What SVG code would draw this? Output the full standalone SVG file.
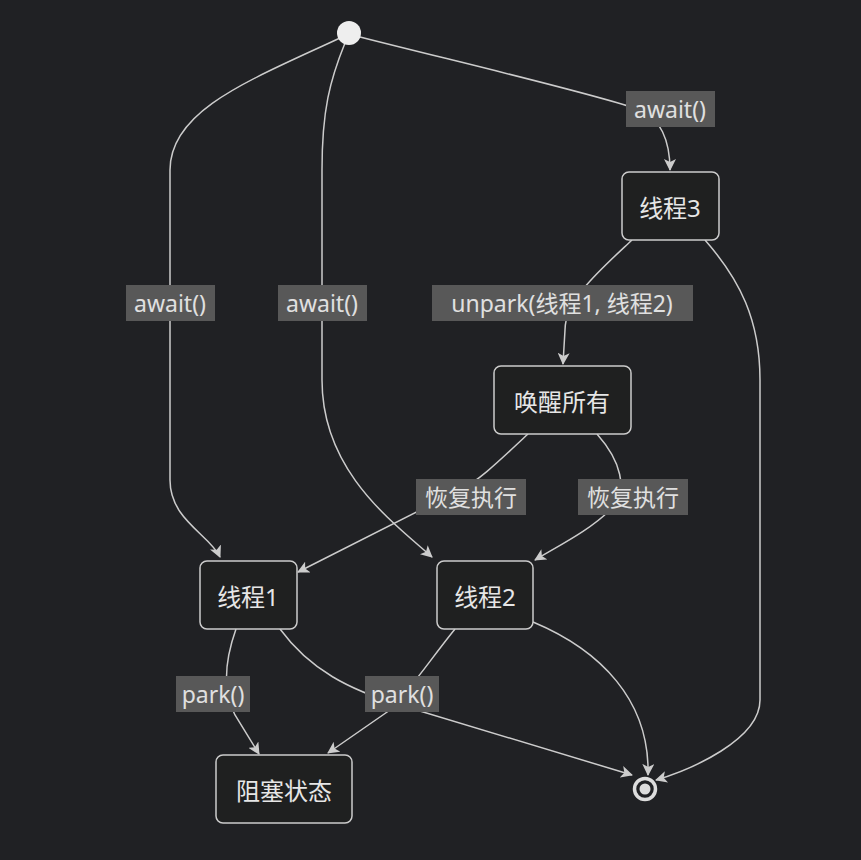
<svg xmlns="http://www.w3.org/2000/svg" width="861" height="860" viewBox="0 0 861 860">
<defs>
<style>
.n rect{fill:#1f2020;stroke:#cccccc;stroke-width:1.5}
text{font-family:"Noto Sans","Noto Sans CJK SC",sans-serif;font-size:24px;fill:#e6e6e6;text-anchor:middle;dominant-baseline:central}
.e path{fill:none;stroke:#cccccc;stroke-width:1.5;marker-end:url(#a)}
.l rect{fill:#585858}
.l text{font-size:23px;fill:#e0e0e0}
</style>
<marker id="a" viewBox="0 0 12 12" refX="11" refY="6" markerWidth="12" markerHeight="12" orient="auto" markerUnits="userSpaceOnUse">
<path d="M0,0 L12,6 L0,12 L3,6 Z" fill="#cccccc"/>
</marker>
</defs>
<rect width="861" height="860" fill="#202124"/>
<g class="e" id="connectors">
<path d="M340,38 C250,80 170,110 170,170 L170,480 C170,520 210,535 220,557"/>
<path d="M345,43 C330,80 322,110 322,170 L322,380 C322,470 390,520 432,557"/>
<path d="M360,37 C450,60 600,95 640,110 C660,118 670,140 670,170"/>
<path d="M632,240 C600,270 565,300 565,330 L563,364"/>
<path d="M705,240 C740,280 760,320 760,380 L760,700 C760,740 690,770 656,780"/>
<path d="M528,434 C500,460 480,480 460,490 L298,572"/>
<path d="M597,434 C620,460 630,490 610,510 C590,530 560,545 535,560"/>
<path d="M236,629 C225,660 222,690 235,715 L259,754"/>
<path d="M280,629 C310,670 350,690 400,705 L632,775"/>
<path d="M455,629 C430,660 410,690 390,710 L328,753"/>
<path d="M533,622 C600,650 650,700 648,775"/>
</g>
<g class="l" id="labels">
<rect x="126" y="285" width="89" height="36"/><text x="170" y="303">await()</text>
<rect x="278" y="285" width="89" height="36"/><text x="322" y="303">await()</text>
<rect x="626" y="91" width="89" height="36"/><text x="670" y="109">await()</text>
<rect x="432" y="285" width="261" height="36"/><text x="562" y="303">unpark(线程1, 线程2)</text>
<rect x="416" y="479" width="110" height="36"/><text x="471" y="497">恢复执行</text>
<rect x="578" y="479" width="110" height="36"/><text x="633" y="497">恢复执行</text>
<rect x="176" y="676" width="74" height="36"/><text x="213" y="694">park()</text>
<rect x="365" y="676" width="74" height="36"/><text x="402" y="694">park()</text>
</g>
<g id="start"><circle cx="349" cy="33" r="12" fill="#eeeeee"/></g>
<g id="end"><circle cx="645" cy="789" r="10.5" fill="none" stroke="#dddddd" stroke-width="3.5"/><circle cx="645" cy="789" r="5.5" fill="#dddddd"/></g>
<g class="n" id="t3"><rect x="622" y="172" width="97" height="68" rx="7"/><text x="670" y="207">线程3</text></g>
<g class="n" id="wake"><rect x="494" y="366" width="137" height="68" rx="7"/><text x="562" y="401">唤醒所有</text></g>
<g class="n" id="t1"><rect x="200" y="561" width="97" height="68" rx="7"/><text x="248" y="596">线程1</text></g>
<g class="n" id="t2"><rect x="437" y="561" width="96" height="68" rx="7"/><text x="485" y="596">线程2</text></g>
<g class="n" id="block"><rect x="216" y="755" width="136" height="68" rx="7"/><text x="284" y="790">阻塞状态</text></g>
</svg>
